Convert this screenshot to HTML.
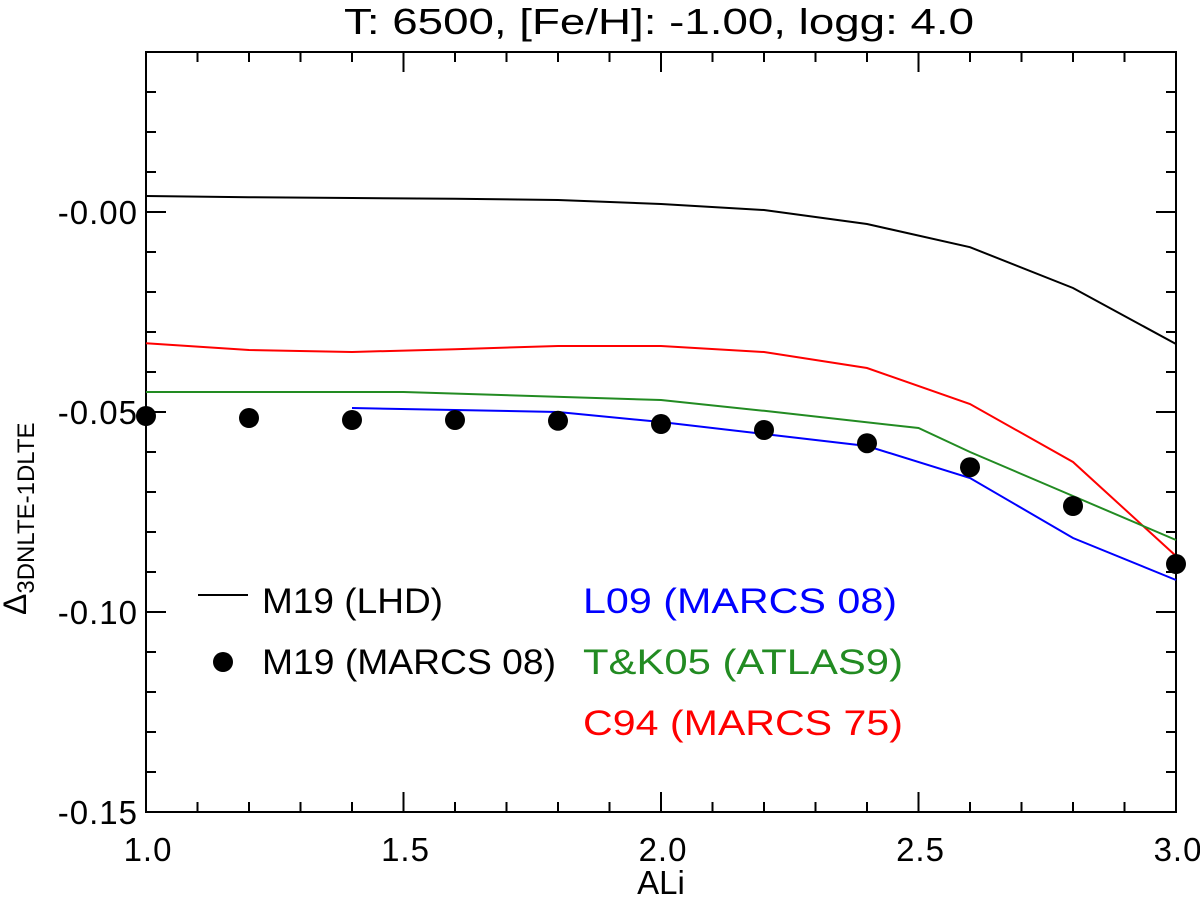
<!DOCTYPE html>
<html><head><meta charset="utf-8"><style>body{margin:0;background:#fff}svg{display:block;font-family:"Liberation Sans",Helvetica,sans-serif}</style></head>
<body>
<svg id="c" width="1200" height="899" viewBox="0 0 1200 899"></svg>
<script>
const xsA=[1.0,1.2,1.4,1.6,1.8,2.0,2.2,2.4,2.6,2.8,3.0];
const blackY=[0.004,0.0037,0.0035,0.0033,0.003,0.002,0.0005,-0.003,-0.0088,-0.019,-0.033];
const redY=[-0.0328,-0.0345,-0.035,-0.0343,-0.0335,-0.0335,-0.035,-0.039,-0.048,-0.0625,-0.086];
const greenX=[1.0,1.5,2.0,2.2,2.5,2.6,2.8,3.0];
const greenY=[-0.045,-0.045,-0.047,-0.0497,-0.054,-0.060,-0.071,-0.082];
const blueX=[1.4,1.8,2.0,2.2,2.4,2.6,2.8,3.0];
const blueY=[-0.049,-0.050,-0.0525,-0.0555,-0.0585,-0.0665,-0.0815,-0.092];
const dotY=[-0.051,-0.0515,-0.052,-0.052,-0.0522,-0.053,-0.0545,-0.0578,-0.0638,-0.0735,-0.088];
const xTicks=[1.0,1.5,2.0,2.5,3.0];
const xTickLabels=["1.0","1.5","2.0","2.5","3.0"];
const yTicks=[0.0,-0.05,-0.10,-0.15];
const yTickLabels=["-0.00","-0.05","-0.10","-0.15"];
const L=146,R=1176,T=52,B=812;
const sx=v=>L+(v-1)/2*(R-L);
const sy=v=>T+(0.04-v)/0.19*(B-T);
const NS="http://www.w3.org/2000/svg";
const svg=document.getElementById('c');
function mk(t,a,p){const e=document.createElementNS(NS,t);for(const k in a)e.setAttribute(k,a[k]);(p||svg).appendChild(e);return e;}
let fr=mk('rect',{x:L,y:T,width:R-L,height:B-T,fill:'none',stroke:'#000','stroke-width':2});


for(let i=0;i<=20;i++){const v=1+i*0.1;const x=sx(v);const maj=i%5==0;const len=maj?20:10;
 mk('line',{x1:x,y1:B,x2:x,y2:B-len,stroke:'#000','stroke-width':2});
 mk('line',{x1:x,y1:T,x2:x,y2:T+len,stroke:'#000','stroke-width':2});}
xTicks.forEach((v,i)=>{const t=mk('text',{x:sx(v)+2,y:B+49,'text-anchor':'middle','font-size':33,'letter-spacing':1});t.textContent=xTickLabels[i];
 
 });
for(let i=0;i<=19;i++){const v=0.04-i*0.01;const y=sy(v);const maj=Math.abs(Math.round(v*100)%5)==0;const len=maj?20:10;
 mk('line',{x1:L,y1:y,x2:L+len,y2:y,stroke:'#000','stroke-width':2});
 mk('line',{x1:R,y1:y,x2:R-len,y2:y,stroke:'#000','stroke-width':2});}
yTicks.forEach((v,i)=>{const t=mk('text',{x:L-8,y:sy(v)+12,'text-anchor':'end','font-size':33,'letter-spacing':1});t.textContent=yTickLabels[i];
 
 });
let tt=mk('text',{x:344,y:34,'font-size':36,textLength:630,lengthAdjust:'spacingAndGlyphs'});tt.textContent="T:  6500, [Fe/H]: -1.00, logg: 4.0";


let xt=mk('text',{x:661,y:894,'text-anchor':'middle','font-size':33});xt.textContent="ALi";


let yt=mk('text',{x:0,y:0,'font-size':32,transform:'translate(26,615) rotate(-90)'});
yt.innerHTML='Δ<tspan font-size="24" dy="8">3DNLTE-1DLTE</tspan>';


function line(xs,ys,col,name){const d=xs.map((x,i)=>(i?'L':'M')+sx(x)+','+sy(ys[i])).join(' ');
 const p=mk('path',{d:d,fill:'none',stroke:col,'stroke-width':2});
 
 }
line(xsA,blackY,'#000','series-m19-lhd');
line(xsA,redY,'#ff0000','series-c94');
line(greenX,greenY,'#228b22','series-tk05');
line(blueX,blueY,'#0000ff','series-l09');
xsA.forEach((x,i)=>{const c=mk('circle',{cx:sx(x),cy:sy(dotY[i]),r:10,fill:'#000'});
 
 });
function lt(x,y,s,w,col,name){const t=mk('text',{x:x,y:y,'font-size':35,fill:col,textLength:w,lengthAdjust:'spacingAndGlyphs'});t.textContent=s;
 
 }
mk('line',{x1:198,y1:595,x2:248,y2:595,stroke:'#000','stroke-width':2});
lt(262,613,'M19 (LHD)',181,'#000','legend-m19-lhd');
mk('circle',{cx:223,cy:662,r:10,fill:'#000'});
lt(262,674,'M19 (MARCS 08)',294,'#000','legend-m19-marcs');
lt(583,613,'L09 (MARCS 08)',314,'#0000ff','legend-l09');
lt(583,674,'T&K05 (ATLAS9)',320,'#228b22','legend-tk05');
lt(583,735,'C94 (MARCS 75)',320,'#ff0000','legend-c94');
</script>
</body></html>
